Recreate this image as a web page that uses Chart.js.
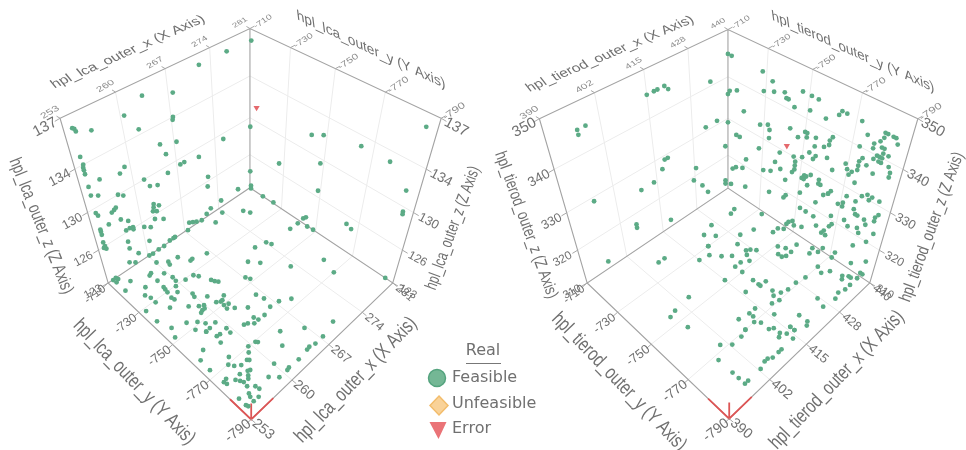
<!doctype html>
<html>
<head>
<meta charset="utf-8">
<title>hpl 3D scatter</title>
<style>
body { margin: 0; background: #fff; }
canvas { display: block; filter: blur(0.35px); }
</style>
</head>
<body>
<canvas id="chart" width="966" height="450"></canvas>
<script src="https://cdn.jsdelivr.net/npm/chart.js@4"></script>
<script>
// tick values and the text printed next to them
var lcaXTicks = [253, 260, 267, 274, 281]
var lcaXLabels = ["253", "260", "267", "274", "281"]
var lcaYTicks = [-790, -770, -750, -730, -710]
var lcaZTicks = [123, 126.5, 130, 133.5, 137]
var lcaZLabels = ["123", "126", "130", "134", "137"]
var tierodXTicks = [390, 402.5, 415, 427.5, 440]
var tierodXLabels = ["390", "402", "415", "428", "440"]
var tierodYTicks = [-790, -770, -750, -730, -710]
var tierodZTicks = [310, 320, 330, 340, 350]
var tierodZLabels = ["310", "320", "330", "340", "350"]
var yLabels = ["-790", "-770", "-750", "-730", "-710"]

// lca points: floor [x, y], back-left wall [x, z], back-right wall [y, z]
var lcaFloor = [[273.8,-713],[270.4,-710.1],[271.6,-715.4],[276.4,-718.8],[276.9,-721.8],[280.4,-741.3],[267.5,-710.4],[262.9,-710.3],[261.9,-710.2],[260.8,-710.4],
[260.2,-710.1],[260.1,-715.2],[262.9,-719.2],[261.4,-718.3],[261.2,-719.9],[264.2,-724.1],[263.8,-724.3],[266.4,-726.1],[254.4,-711.2],[253.8,-710.2],
[253.9,-712.1],[255.4,-715.5],[253.9,-718],[257.9,-718.7],[258.3,-718.1],[259.6,-721.9],[258.1,-723],[256.2,-722.2],[255.3,-725.3],[255.6,-727.8],
[255.6,-730.8],[258,-727.2],[257.9,-728.6],[257.8,-730.3],[259.3,-730.3],[258.8,-733],[260,-725.9],[259.9,-728.2],[261,-730.5],[262.3,-731],
[262.7,-732.9],[263.5,-737.8],[263.7,-739.3],[264,-740.5],[257.6,-733.4],[257.7,-734.9],[260.1,-737.7],[259.9,-739.4],[261.2,-742.8],[258.3,-741.3],
[256.4,-736.7],[253.8,-731.5],[259.3,-744],[259.9,-745],[259.6,-746.3],[259.2,-746.3],[258.8,-746.9],[261.4,-747.3],[261.9,-748.3],[262.9,-747],
[262.2,-748.3],[261.8,-750.4],[261.7,-752.4],[262.4,-751.2],[262.5,-754.3],[253.8,-738.1],[256.4,-746.4],[257.5,-749],[254.5,-744.2],[253.9,-748.3],
[256.5,-751.1],[257.3,-754.5],[258.1,-751.6],[257.3,-754.5],[258,-754.3],[259.1,-753.9],[257.8,-758.7],[258.3,-758.9],[259.5,-758.7],[259.4,-761.1],
[257.5,-761.7],[255.2,-759.5],[254,-762],[253.9,-767.2],[256.8,-768.1],[256,-770.2],[256.4,-772],[257.1,-773.5],[256.1,-775.7],[255.2,-776.2],
[255.5,-777.6],[254,-774],[254.5,-773.6],[254.1,-775.2],[253.8,-782],[278.7,-741.2],[280.9,-745.5],[272.2,-738],[274.1,-739.3],[274.4,-741.6],
[269.5,-741.5],[270.6,-745.5],[277.5,-762.9],[273.2,-755.6],[276.7,-770],[267.2,-746.6],[267.5,-748.5],[266.1,-755.6],[266.4,-759.1],[267.5,-764.1],
[269,-766.7],[263.8,-757.7],[266,-763.5],[264.5,-764.6],[263.2,-762.5],[263.4,-764.4],[262.6,-764.5],[262,-762.8],[261.5,-762.2],[270.1,-784.8],
[266.7,-779.1],[264.1,-773.7],[262.7,-778.4],[267.4,-786.3],[265.9,-786.3],[265,-785.6],[264.5,-785.8],[262.7,-786.3],[260.1,-781.3],[261,-786],
[260.6,-786.3],[258.3,-783.5],[259.2,-786.2],[260.7,-770.4],[260.9,-771.1],[259.6,-769.9],[259,-771.8],[258.1,-773.5],[258.3,-774.1],[257.4,-777.1],
[257.1,-776.7],[256.7,-778.1],[256.4,-779],[255.7,-778.8],[255.6,-780.7],[256.3,-782.7],[256.4,-784.3],[255.1,-783],[254.9,-784.2],[255.6,-786.2],
[254.8,-786.1],[253.8,-785.3],[253.9,-786.1]]
var lcaLeftWall = [[254,136.1],[254.2,136],[254.3,135.8],[256.1,135.4],[260.5,135.3],[263.3,136],[262.1,133.9],[267.7,135.2],[267.3,133.5],[267.2,133.3],[272.1,136.2],
[276.8,136.2],[275.6,129.5],[267.4,131.5],[264.8,132],[265.5,131],[270.9,129.2],[267.6,129.5],[268.3,129.5],[254,134.1],[254.1,133.5],[254,133.3],
[254,133.1],[254,132.8],[259.2,131.8],[258.4,131.5],[255.6,131.9],[265.4,129.4],[261.6,130],[262.3,129.2],[263.5,128.9],[272.3,126.9],[272.1,126],
[278.3,123.7],[254,131.8],[254,131.1],[254.9,130.8],[257.5,130],[258.2,129.7],[274.6,123.7],[254,129.6],[254.2,129.3],[256.1,128.9],[256.5,129],
[256.8,129.1],[262.4,127.5],[263.2,127.1],[262.3,127.2],[262.1,126.9],[262.7,126.7],[272.4,123.6],[271.5,123.3],[257.1,127.9],[258.1,127.4],[262.2,126.1],
[263.6,125.6],[255.3,128.1],[268,123.6],[268.7,123.4],[269.4,123.2],[254,128.1],[254,127.9],[254,127.6],[257.5,126.7],[258.1,126.7],[258.6,126.6],
[258.6,126.4],[260.3,126],[261.3,125.6],[253.9,126.9],[254,126.5],[254.1,126.2],[253.8,126.4],[257.4,125.6],[260.7,124.4],[265.1,123.1],[264.8,123.1],
[264.1,123.1],[257.4,124.9],[258.6,123.9],[256.9,123.6],[257.8,123.2],[254.3,123]]
var lcaRightWall = [[-710.7,136.2],[-710.2,129.2],[-710.2,124.8],[-710.7,123.3],[-710.7,123],[-742.9,131.5],[-748.4,132],[-764.9,132.7],[-777,132.7],[-786.2,136.1],
[-727.3,127.4],[-748.4,129.6],[-748.8,127.1],[-785.3,131.3],[-786.2,129.6],[-786.3,129.4],[-718.4,123],[-725,123.1],[-742.7,123.5],[-744.1,123.8],
[-764.5,125.7],[-748.6,123],[-767,125.5],[-786.4,123]]
var lcaErrorWall = [[-713.8,131.2]]

// tierod points, same three groups
var tierodFloor = [[435,-722],[433,-723],[439,-733],[407,-722],[409,-722],[405,-744],[400,-745],[398,-746],[399,-754],[401,-768],[398,-772],[422,-724],[424,-728],[420,-730],
[420,-730],[418,-734],[420,-738],[415,-733],[426,-722],[433,-737],[436,-744],[438,-744],[439,-746],[429,-735],[426,-738],[433,-751],[434,-754],[437,-756],
[439,-762],[426,-743],[427,-744],[428,-746],[425,-745],[422,-741],[431,-754],[431,-756],[432,-757],[434,-757],[437,-763],[439,-765],[424,-748],[422,-746],
[420,-746],[420,-750],[415,-748],[435,-770],[434,-773],[436,-775],[437,-780],[436,-781],[438,-782],[438,-783],[439,-785],[434,-785],[436,-785],[432,-784],
[430,-785],[420,-756],[420,-759],[420,-760],[422,-760],[430,-770],[427,-769],[424,-769],[422,-768],[421,-765],[416,-758],[420,-767],[418,-769],[420,-770],
[427,-780],[426,-784],[420,-780],[420,-784],[419,-785],[416,-773],[414,-766],[412,-766],[412,-768],[411,-770],[409,-765],[412,-772],[408,-770],[408,-770],
[406,-771],[403,-771],[412,-776],[413,-777],[413,-780],[414,-782],[412,-781],[416,-781],[416,-781],[416,-783],[416,-783],[414,-785],[410,-785],[409,-785],
[407,-785],[406,-784],[405,-784],[403,-785],[398,-779],[398,-782],[399,-785],[398,-785]]
var tierodLeftWall = [[397,345],[397,344],[399,345],[415,345],[417,345],[418,345],[420,345],[421,344],[434,341],[432,331],[436,331],[419,329],[418,329],[417,327],[428,322],[427,319],
[430,316],[432,313],[414,325],[410,325],[397,329],[418,312],[407,317],[440,345],[440,336],[440,329],[439,323],[439,313],[439,312],[397,312],[407,316]]
var tierodRightWall = [[-712,345],[-711,337],[-715,338],[-715,327],[-717,327],[-713,317],[-715,318],[-712,312],[-728,345],[-733,344],[-729,341],[-734,342],[-739,343],[-747,345],
[-751,345],[-754,345],[-741,342],[-740,342],[-744,341],[-751,342],[-719,334],[-758,342],[-763,344],[-764,345],[-766,345],[-772,345],[-775,343],[-781,345],
[-782,345],[-784,345],[-785,345],[-786,344],[-780,343],[-781,344],[-778,342],[-778,341],[-781,342],[-782,342],[-773,340],[-728,333],[-732,334],[-733,333],
[-733,331],[-743,336],[-747,335],[-750,337],[-751,337],[-751,336],[-755,337],[-762,339],[-761,338],[-761,337],[-759,336],[-755,335],[-728,327],[-739,329],
[-753,333],[-756,333],[-755,332],[-750,331],[-746,330],[-747,329],[-747,328],[-747,327],[-746,326],[-737,326],[-740,325],[-731,322],[-735,323],[-721,322],
[-719,319],[-721,314],[-735,317],[-743,323],[-744,319],[-743,318],[-751,322],[-759,322],[-762,325],[-764,326],[-764,326],[-765,327],[-752,327],[-753,327],
[-755,328],[-751,326],[-752,326],[-759,328],[-759,327],[-760,327],[-754,325],[-761,334],[-764,332],[-769,335],[-770,334],[-772,334],[-774,335],
[-774,336],[-774,337],[-775,338],[-777,337],[-779,339],[-780,340],[-781,340],[-781,339],[-782,339],[-782,340],[-782,341],[-784,341],[-785,339],[-786,338],
[-786,337],[-780,336],[-771,333],[-774,332],[-772,328],[-771,326],[-769,325],[-771,325],[-776,328],[-778,330],[-780,331],[-781,330],[-782,331],[-785,331],
[-776,326],[-777,325],[-778,325],[-781,325],[-786,328],[-785,327],[-785,326],[-773,322],[-767,321],[-768,319],[-759,318],[-755,318],[-752,318],[-749,313],
[-750,312],[-747,312],[-766,311],[-779,317],[-784,320],[-764,315],[-766,315],[-765,316],[-780,321],[-786,323],[-767,318],[-761,316],[-754,313],[-746,311],
[-779,322],[-782,324],[-775,321],[-772,312],[-771,310],[-780,312],[-786,315],[-785,311],[-786,311]]
var tierodErrorWall = [[-742.2,331.6]]

var legendNames = ["Feasible", "Unfeasible", "Error"]

// perspective box: back floor corner k, right r, left l, top t
function makeBox(k, r, l, t, xr, yr, zr) {
   var ps = -0.151, pt = -0.151, pw = -0.215
   return {
      xr: xr, yr: yr, zr: zr,
      project: function (x, y, z) {
         var s = (yr[1] - y) / (yr[1] - yr[0]) // toward the right corner
         var u = (xr[1] - x) / (xr[1] - xr[0]) // toward the left corner
         var w = (z - zr[0]) / (zr[1] - zr[0])
         var d = 1 + ps * s + pt * u + pw * w
         return {
            x: k[0] + ((r[0] - k[0]) * (1 + ps) * s + (l[0] - k[0]) * (1 + pt) * u + (t[0] - k[0]) * (1 + pw) * w) / d,
            y: k[1] + ((r[1] - k[1]) * (1 + ps) * s + (l[1] - k[1]) * (1 + pt) * u + (t[1] - k[1]) * (1 + pw) * w) / d,
            d: d,
         }
      },
   }
}

var lcaBox = makeBox([248, 187], [392, 284], [105, 284], [248, 25], [253, 281], [-790, -710], [123, 137])
var tierodBox = makeBox([730, 187.5], [873, 284], [588, 284], [730, 26], [390, 440], [-790, -710], [310, 350])

function path(box, pts) {
   var out = []
   pts.forEach(function (p) {
      out.push(p ? box.project(p[0], p[1], p[2]) : { x: null, y: null })
   })
   return out
}

function gridPts(box, xt, yt, zt) {
   var x0 = box.xr[0], x1 = box.xr[1], y0 = box.yr[0], y1 = box.yr[1], z0 = box.zr[0], z1 = box.zr[1]
   var pts = []
   xt.slice(1, -1).forEach(function (v) {
      pts.push([v, y0, z0], [v, y1, z0], [v, y1, z1], null)
   })
   yt.slice(1, -1).forEach(function (v) {
      pts.push([x0, v, z0], [x1, v, z0], [x1, v, z1], null)
   })
   zt.slice(1, -1).forEach(function (v) {
      pts.push([x0, y1, v], [x1, y1, v], [x1, y0, v], null)
   })
   return pts
}

function framePts(box) {
   var x0 = box.xr[0], x1 = box.xr[1], y0 = box.yr[0], y1 = box.yr[1], z0 = box.zr[0], z1 = box.zr[1]
   return [[x0, y1, z0], [x0, y1, z1], [x1, y1, z1], [x1, y0, z1], [x1, y0, z0], [x1, y1, z0], [x0, y1, z0], [x0, y0, z0], [x1, y0, z0], null, [x1, y1, z0], [x1, y1, z1]]
}

function originPts(box, mark) {
   var x0 = box.xr[0], y0 = box.yr[0], z0 = box.zr[0]
   return [[mark[0], y0, z0], [x0, y0, z0], [x0, mark[1], z0], null, [x0, y0, z0], [x0, y0, mark[2]]]
}

function merged(box, floor, left, right) {
   var pts = []
   floor.forEach(function (p) { pts.push(box.project(p[0], p[1], box.zr[0])) })
   left.forEach(function (p) { pts.push(box.project(p[0], box.yr[1], p[1])) })
   right.forEach(function (p) { pts.push(box.project(box.xr[1], p[0], p[1])) })
   return pts
}

function lineSet(data, color, width, order) {
   return { data: data, showLine: true, borderColor: color, borderWidth: width, pointRadius: 0, order: order }
}

function pointSet(data) {
   return { data: data, backgroundColor: "#5cab86", borderWidth: 0, pointRadius: 2.4, order: 2 }
}

function errorSet(data) {
   return { data: data, pointStyle: "triangle", rotation: 180, backgroundColor: "#e5696d", borderWidth: 0, pointRadius: 3.6, order: 1 }
}

var datasets = [
   lineSet(path(lcaBox, gridPts(lcaBox, lcaXTicks, lcaYTicks, lcaZTicks)), "#ececec", 1, 6),
   lineSet(path(tierodBox, gridPts(tierodBox, tierodXTicks, tierodYTicks, tierodZTicks)), "#ececec", 1, 6),
   lineSet(path(lcaBox, framePts(lcaBox)), "#a3a3a3", 1.1, 5),
   lineSet(path(tierodBox, framePts(tierodBox)), "#a3a3a3", 1.1, 5),
   lineSet(path(lcaBox, originPts(lcaBox, [256.7, -780, 125])), "#dd5555", 1.8, 4),
   lineSet(path(tierodBox, originPts(tierodBox, [396.8, -780, 315.8])), "#dd5555", 1.8, 4),
   pointSet(merged(lcaBox, lcaFloor, lcaLeftWall, lcaRightWall)),
   pointSet(merged(tierodBox, tierodFloor, tierodLeftWall, tierodRightWall)),
   errorSet(merged(lcaBox, [], [], lcaErrorWall)),
   errorSet(merged(tierodBox, [], [], tierodErrorWall)),
]

// text on the axes: where each tick sits and how the text is sheared
function tickGroups(box, xt, xl, yt, zt, zl) {
   var x0 = box.xr[0], x1 = box.xr[1], y0 = box.yr[0], y1 = box.yr[1], z0 = box.zr[0], z1 = box.zr[1]
   return [
      { v: zt, l: zl, at: function (v) { return [x0, y1, v] }, off: [-15, 9], m: [0.88, -0.47, 0.47, 0.88], size: 9.5, color: "#707070" },
      { v: zt, l: zl, at: function (v) { return [x1, y0, v] }, off: [15, 9], m: [0.88, 0.47, -0.47, 0.88], size: 9.5, color: "#707070" },
      { v: yt, l: yLabels, at: function (v) { return [x0, v, z0] }, off: [-13, 11.5], m: [0.8, -0.6, 0.6, 0.8], size: 10, color: "#707070" },
      { v: xt, l: xl, at: function (v) { return [v, y0, z0] }, off: [12, 10], m: [0.77, 0.64, -0.64, 0.77], size: 10, color: "#707070" },
      { v: xt, l: xl, at: function (v) { return [v, y1, z1] }, off: [-10, -6], m: [0.86, -0.5, 0.5, 0.55], size: 7.5, color: "#8c8c8c" },
      { v: yt, l: yLabels, at: function (v) { return [x1, v, z1] }, off: [13, -7], m: [0.82, -0.55, 0.45, 0.6], size: 8, color: "#8c8c8c" },
   ]
}

var axisText = [
   { box: lcaBox, groups: tickGroups(lcaBox, lcaXTicks, lcaXLabels, lcaYTicks, lcaZTicks, lcaZLabels) },
   { box: tierodBox, groups: tickGroups(tierodBox, tierodXTicks, tierodXLabels, tierodYTicks, tierodZTicks, tierodZLabels) },
]

// title, centre x, centre y, length, angle in degrees, shear, font size, height squeeze
var axisTitles = [
   ["hpl_lca_outer_x (X Axis)", 128, 52, 166, -24, -0.2, 17, 0.75],
   ["hpl_lca_outer_y (Y Axis)", 371, 50, 164, 25, -0.45, 17, 0.72],
   ["hpl_lca_outer_z (Z Axis)", 41, 226, 145, 68, 0, 18, 1],
   ["hpl_lca_outer_z (Z Axis)", 453, 228, 130, -70, 0, 17, 1],
   ["hpl_lca_outer_y (Y Axis)", 134, 382, 166, 46, 0, 20, 1],
   ["hpl_lca_outer_x (X Axis)", 356, 380, 166, -46, 0, 20, 1],
   ["hpl_tierod_outer_x (X Axis)", 610, 54, 180, -23, -0.2, 17, 0.75],
   ["hpl_tierod_outer_y (Y Axis)", 853, 52, 178, 24, -0.45, 17, 0.72],
   ["hpl_tierod_outer_z (Z Axis)", 526, 225, 155, 70, 0, 17, 1],
   ["hpl_tierod_outer_z (Z Axis)", 932, 227, 158, -70, 0, 17, 1],
   ["hpl_tierod_outer_y (Y Axis)", 619, 382, 184, 46, 0, 20, 1],
   ["hpl_tierod_outer_x (X Axis)", 837, 380, 184, -46, 0, 20, 1],
]

var axisTextPlugin = {
   id: "axisText",
   afterDraw: function (chart) {
      var ctx = chart.ctx, sx = chart.scales.x, sy = chart.scales.y
      ctx.save()
      ctx.textAlign = "center"
      ctx.textBaseline = "middle"
      ctx.strokeStyle = "#a8a8a8"
      ctx.lineWidth = 1
      axisText.forEach(function (a) {
         a.groups.forEach(function (g) {
            ctx.fillStyle = g.color
            g.v.forEach(function (v, i) {
               var c = g.at(v)
               var p = a.box.project(c[0], c[1], c[2])
               var px = sx.getPixelForValue(p.x), py = sy.getPixelForValue(p.y)
               ctx.beginPath()
               ctx.moveTo(px, py)
               ctx.lineTo(px + g.off[0] * 0.35, py + g.off[1] * 0.35)
               ctx.stroke()
               ctx.save()
               ctx.translate(px + g.off[0], py + g.off[1])
               ctx.transform(g.m[0], g.m[1], g.m[2], g.m[3], 0, 0)
               ctx.font = (g.size / p.d).toFixed(1) + 'px "Liberation Sans"'
               ctx.fillText(g.l[i], 0, 0)
               ctx.restore()
            })
         })
      })
      ctx.fillStyle = "#707070"
      axisTitles.forEach(function (t) {
         ctx.save()
         ctx.font = t[6] + 'px "Liberation Sans"'
         ctx.translate(t[1], t[2])
         ctx.rotate((t[4] * Math.PI) / 180)
         ctx.transform(1, 0, -t[5], t[7], 0, 0)
         ctx.scale(t[3] / ctx.measureText(t[0]).width, 1)
         ctx.fillText(t[0], 0, 0)
         ctx.restore()
      })
      // legend
      ctx.font = '16px "DejaVu Sans"'
      ctx.fillText("Real", 483, 351)
      ctx.strokeStyle = "#777"
      ctx.beginPath()
      ctx.moveTo(466, 363.5)
      ctx.lineTo(501, 363.5)
      ctx.stroke()
      ctx.textAlign = "left"
      ctx.fillText(legendNames[0], 452, 378)
      ctx.fillText(legendNames[1], 452, 404)
      ctx.fillText(legendNames[2], 452, 429)
      ctx.lineWidth = 1.5
      ctx.fillStyle = "#74b795"
      ctx.strokeStyle = "#54a37e"
      ctx.beginPath()
      ctx.arc(437, 378, 8.5, 0, Math.PI * 2)
      ctx.fill()
      ctx.stroke()
      ctx.fillStyle = "#f9d298"
      ctx.strokeStyle = "#f3bd6c"
      ctx.beginPath()
      ctx.moveTo(439, 396)
      ctx.lineTo(448, 405.5)
      ctx.lineTo(439, 415)
      ctx.lineTo(430, 405.5)
      ctx.closePath()
      ctx.fill()
      ctx.stroke()
      ctx.fillStyle = "#ea7377"
      ctx.beginPath()
      ctx.moveTo(429.5, 422)
      ctx.lineTo(446.5, 422)
      ctx.lineTo(438.5, 439)
      ctx.closePath()
      ctx.fill()
      ctx.restore()
   },
}

var ctx = document.getElementById("chart").getContext("2d")
var chart = new Chart(ctx, {
   type: "scatter",
   data: { datasets: datasets },
   plugins: [axisTextPlugin],
   options: {
      responsive: false,
      animation: false,
      layout: { padding: 0 },
      plugins: {
         legend: { display: false },
         tooltip: { enabled: false },
      },
      scales: {
         x: { type: "linear", min: 0, max: 966, display: false },
         y: { type: "linear", min: 0, max: 450, reverse: true, display: false },
      },
   },
})
</script>
</body>
</html>
